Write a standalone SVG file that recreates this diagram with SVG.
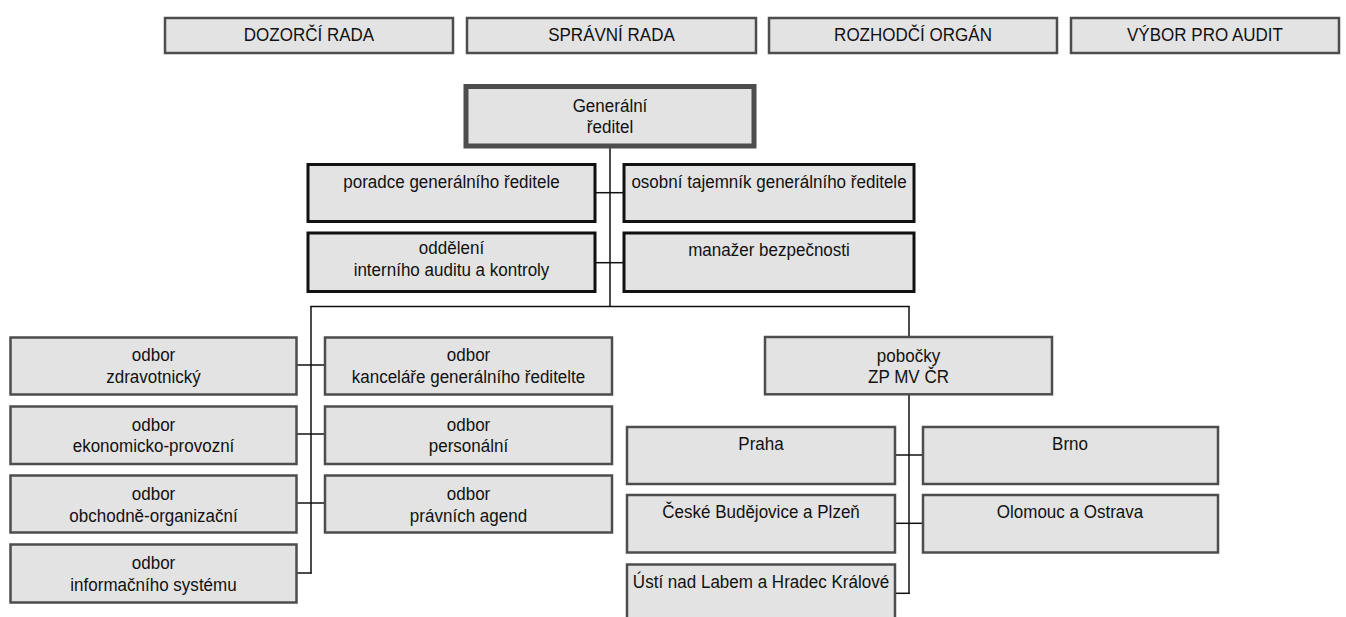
<svg xmlns="http://www.w3.org/2000/svg" width="1346" height="617" viewBox="0 0 1346 617">
<style>
.b{fill:#e3e3e3;stroke:#4d4d4d;stroke-width:2.5}
.k{fill:#e3e3e3;stroke:#111;stroke-width:3}
.g{fill:#e3e3e3;stroke:#4d4d4d;stroke-width:5}
text{font-family:"Liberation Sans",Arial,sans-serif;font-size:18.5px;fill:#111;text-anchor:middle}
.c line{stroke:#111;stroke-width:1.5}
</style>
<rect width="1346" height="617" fill="#fff"/>
<g class="c" id="connectors">
<line x1="610" y1="146" x2="610" y2="306.5"/>
<line x1="595" y1="192.7" x2="624" y2="192.7"/>
<line x1="595" y1="262.7" x2="624" y2="262.7"/>
<line x1="310.5" y1="306.5" x2="909.5" y2="306.5"/>
<line x1="311" y1="306" x2="311" y2="573.5"/>
<line x1="296.5" y1="365" x2="325" y2="365"/>
<line x1="296.5" y1="434" x2="325" y2="434"/>
<line x1="296.5" y1="503" x2="325" y2="503"/>
<line x1="296.5" y1="573" x2="311.7" y2="573"/>
<line x1="909" y1="306" x2="909" y2="337"/>
<line x1="909" y1="394" x2="909" y2="594"/>
<line x1="895" y1="455" x2="923" y2="455"/>
<line x1="895" y1="523.3" x2="923" y2="523.3"/>
<line x1="895" y1="593.3" x2="909.7" y2="593.3"/>
</g>
<g id="dozorci"><rect class="b" x="165" y="18" width="288" height="35"/><text transform="translate(309 0) scale(0.92 1)" x="0" y="41.5">DOZORČÍ RADA</text></g>
<g id="spravni"><rect class="b" x="467" y="18" width="289" height="35"/><text transform="translate(611.5 0) scale(0.92 1)" x="0" y="41.5">SPRÁVNÍ RADA</text></g>
<g id="rozhodci"><rect class="b" x="769" y="18" width="288" height="35"/><text transform="translate(913 0) scale(0.92 1)" x="0" y="41.5">ROZHODČÍ ORGÁN</text></g>
<g id="vybor"><rect class="b" x="1071" y="18" width="268" height="35"/><text transform="translate(1205 0) scale(0.92 1)" x="0" y="41.5">VÝBOR PRO AUDIT</text></g>
<g id="gr"><rect class="g" x="466" y="86.5" width="288" height="59.5"/><text transform="translate(610 0) scale(0.92 1)" x="0" y="112">Generální</text><text transform="translate(610 0) scale(0.92 1)" x="0" y="133.5">ředitel</text></g>
<g id="poradce"><rect class="k" x="308" y="164.5" width="287" height="57"/><text transform="translate(451.5 0) scale(0.92 1)" x="0" y="188">poradce generálního ředitele</text></g>
<g id="osobni"><rect class="k" x="624" y="164.5" width="290" height="57"/><text transform="translate(769 0) scale(0.92 1)" x="0" y="188">osobní tajemník generálního ředitele</text></g>
<g id="oddeleni"><rect class="k" x="308" y="233" width="287" height="58.5"/><text transform="translate(451.5 0) scale(0.92 1)" x="0" y="254.5">oddělení</text><text transform="translate(451.5 0) scale(0.92 1)" x="0" y="276.5">interního auditu a kontroly</text></g>
<g id="manazer"><rect class="k" x="624" y="233" width="290" height="58.5"/><text transform="translate(769 0) scale(0.92 1)" x="0" y="256">manažer bezpečnosti</text></g>
<g id="zdrav"><rect class="b" x="10.5" y="337.5" width="286" height="57"/><text transform="translate(153.5 0) scale(0.92 1)" x="0" y="361.5">odbor</text><text transform="translate(153.5 0) scale(0.92 1)" x="0" y="383.3">zdravotnický</text></g>
<g id="ekon"><rect class="b" x="10.5" y="406.5" width="286" height="57.5"/><text transform="translate(153.5 0) scale(0.92 1)" x="0" y="430.7">odbor</text><text transform="translate(153.5 0) scale(0.92 1)" x="0" y="452.3">ekonomicko-provozní</text></g>
<g id="obch"><rect class="b" x="10.5" y="475.5" width="286" height="57"/><text transform="translate(153.5 0) scale(0.92 1)" x="0" y="500">odbor</text><text transform="translate(153.5 0) scale(0.92 1)" x="0" y="521.7">obchodně-organizační</text></g>
<g id="info"><rect class="b" x="10.5" y="544.5" width="286" height="58"/><text transform="translate(153.5 0) scale(0.92 1)" x="0" y="569.3">odbor</text><text transform="translate(153.5 0) scale(0.92 1)" x="0" y="591">informačního systému</text></g>
<g id="kanc"><rect class="b" x="325" y="337.5" width="287" height="57"/><text transform="translate(468.5 0) scale(0.92 1)" x="0" y="361.5">odbor</text><text transform="translate(468.5 0) scale(0.92 1)" x="0" y="383.3">kanceláře generálního ředitelte</text></g>
<g id="pers"><rect class="b" x="325" y="406.5" width="287" height="57.5"/><text transform="translate(468.5 0) scale(0.92 1)" x="0" y="430.7">odbor</text><text transform="translate(468.5 0) scale(0.92 1)" x="0" y="452.3">personální</text></g>
<g id="pravni"><rect class="b" x="325" y="475.5" width="287" height="57"/><text transform="translate(468.5 0) scale(0.92 1)" x="0" y="500">odbor</text><text transform="translate(468.5 0) scale(0.92 1)" x="0" y="521.7">právních agend</text></g>
<g id="pobocky"><rect class="b" x="765" y="337" width="287" height="57.3"/><text transform="translate(908.5 0) scale(0.92 1)" x="0" y="361.7">pobočky</text><text transform="translate(908.5 0) scale(0.92 1)" x="0" y="383.3">ZP MV ČR</text></g>
<g id="praha"><rect class="b" x="627" y="427" width="268" height="57"/><text transform="translate(761 0) scale(0.92 1)" x="0" y="450">Praha</text></g>
<g id="brno"><rect class="b" x="923" y="427" width="295" height="57"/><text transform="translate(1070 0) scale(0.92 1)" x="0" y="450">Brno</text></g>
<g id="cb"><rect class="b" x="627" y="495" width="268" height="57.5"/><text transform="translate(761 0) scale(0.92 1)" x="0" y="518.3">České Budějovice a Plzeň</text></g>
<g id="olomouc"><rect class="b" x="923" y="495" width="295" height="57.5"/><text transform="translate(1070 0) scale(0.92 1)" x="0" y="518.3">Olomouc a Ostrava</text></g>
<g id="usti"><rect class="b" x="627" y="564.5" width="268" height="60"/><text transform="translate(761 0) scale(0.92 1)" x="0" y="588.3">Ústí nad Labem a Hradec Králové</text></g>
</svg>
